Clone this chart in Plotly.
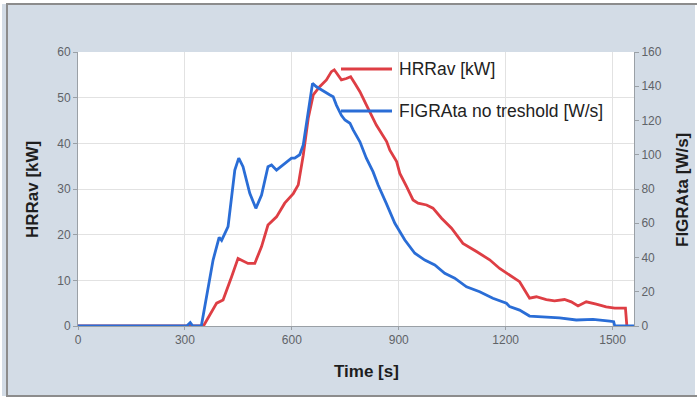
import plotly.graph_objects as go

# HRRav [kW] (left axis)
hrr_t = [0, 300, 352, 389, 407, 431, 449, 477, 496, 515, 533, 557, 580, 604, 618, 632, 646, 660, 678,
         697, 711, 719, 730, 739, 753, 765, 777, 791, 809, 837, 866, 875, 894, 903, 922, 940, 954, 978,
         996, 1020, 1048, 1080, 1118, 1155, 1183, 1211, 1239, 1267, 1286, 1314, 1337, 1365, 1384, 1403,
         1426, 1454, 1482, 1506, 1536, 1540]
hrr_v = [0, 0, 0, 5, 5.7, 10.8, 14.8, 13.7, 13.7, 17.4, 22.1, 23.9, 26.9, 29, 30.9, 37.4, 45.5, 50.6, 52.4,
         53.9, 55.7, 56.1, 55, 53.9, 54.2, 54.6, 53.1, 51.3, 48.4, 44, 40.4, 38.5, 36, 33.4, 30.5, 27.6, 26.9, 26.5,
         25.8, 23.6, 21.4, 18.1, 16.3, 14.5, 12.6, 11.2, 9.7, 6.1, 6.4, 5.8, 5.5, 5.8, 5.3, 4.4,
         5.3, 4.8, 4.2, 3.9, 3.9, 0]

# FIGRAta no treshold [W/s] (right axis)
fig_t = [0, 305, 315, 322, 340, 346, 379, 396, 403, 421, 440, 451, 463, 482, 499, 515, 533, 543, 557, 580,
         599, 608, 622, 632, 641, 651, 658, 669, 683, 697, 707, 716, 725, 739, 749, 763, 772, 791, 809,
         828, 842, 865, 889, 917, 945, 973, 1001, 1029, 1057, 1090, 1127, 1164, 1202, 1211, 1239, 1267,
         1305, 1351, 1398, 1445, 1492, 1503, 1506, 1560]
fig_v = [0, 0, 2, 0, 0, 0, 38.5, 51.8, 50, 58, 91, 98, 93, 77.5, 68.7, 76.5, 93, 94, 91, 95,
         98, 98, 100, 105.7, 119, 133, 141.7, 139.7, 137.8, 135.9, 134.9, 133.9, 129, 123, 120.3, 118.4, 114.5, 107.6, 98,
         90, 82.3, 71.6, 60, 50.2, 42.5, 38.5, 35.6, 30.8, 27.9, 22.9, 20, 16.2, 13.3, 11.3, 9.3, 5.8,
         5.4, 4.8, 3.5, 3.9, 2.9, 2.5, 0, 0]

x_ticks = [0, 300, 600, 900, 1200, 1500]
left_ticks = [0, 10, 20, 30, 40, 50, 60]
right_ticks = [0, 20, 40, 60, 80, 100, 120, 140, 160]

RED = "#de3e44"
BLUE = "#2a6dd6"
BG = "#d3dce6"
TICKC = "#5f6368"
AXC = "#9aa0a6"

fig = go.Figure()
fig.add_trace(go.Scatter(x=hrr_t, y=hrr_v, mode="lines", name="HRRav [kW]",
                         line=dict(color=RED, width=2.8), yaxis="y"))
fig.add_trace(go.Scatter(x=fig_t, y=fig_v, mode="lines", name="FIGRAta no treshold [W/s]",
                         line=dict(color=BLUE, width=2.8), yaxis="y2"))

L, R, T, B = 78, 63, 52, 74
W, H = 697, 400
pw, ph = W - L - R, H - T - B

def px(x):
    return (x - L) / pw

def py(y):
    return (H - B - y) / ph

fig.update_layout(
    width=W, height=H,
    margin=dict(l=L, r=R, t=T, b=B, autoexpand=False),
    paper_bgcolor=BG, plot_bgcolor="white",
    showlegend=False,
    font=dict(family="Liberation Sans, Arial, sans-serif", color="#222"),
    xaxis=dict(range=[0, 1560], tickvals=x_ticks, showgrid=True, gridcolor="#e2e2e2",
               zeroline=False, showline=True, linecolor=AXC, linewidth=1,
               ticks="outside", ticklen=3, tickcolor=AXC,
               tickfont=dict(size=12, color=TICKC)),
    yaxis=dict(range=[0, 60], tickvals=left_ticks, showgrid=True, gridcolor="#e2e2e2",
               zeroline=False, showline=True, linecolor=AXC, linewidth=1,
               ticks="outside", ticklen=4, tickcolor=AXC,
               tickfont=dict(size=12, color=TICKC)),
    yaxis2=dict(range=[0, 160], tickvals=right_ticks, overlaying="y", side="right",
                showgrid=False, zeroline=False, showline=True, linecolor=AXC, linewidth=1,
                ticks="outside", ticklen=4, tickcolor=AXC,
                tickfont=dict(size=12, color=TICKC)),
)

# axis titles
titles = [("<b>HRRav [kW]</b>", 33, 190, -90), ("<b>FIGRAta [W/s]</b>", 683, 190, -90),
          ("<b>Time [s]</b>", 366, 371, 0)]
for txt, xp, yp, ang in titles:
    fig.add_annotation(xref="paper", yref="paper", x=px(xp), y=py(yp), text=txt,
                       showarrow=False, textangle=ang, xanchor="center", yanchor="middle",
                       font=dict(size=17, color="#1e1e1e"))

# legend drawn manually inside the plot
legend_items = [("HRRav [kW]", RED, 69), ("FIGRAta no treshold [W/s]", BLUE, 111)]
for label, col, ypix in legend_items:
    fig.add_shape(type="line", xref="paper", yref="paper",
                  x0=px(341), x1=px(392), y0=py(ypix), y1=py(ypix),
                  line=dict(color=col, width=2.8))
    fig.add_annotation(xref="paper", yref="paper", x=px(397), y=py(ypix),
                       text=label, showarrow=False, xanchor="left", yanchor="middle",
                       font=dict(size=17.5, color="#222"))

# outer frame
fig.add_shape(type="rect", xref="paper", yref="paper",
              x0=px(-4), x1=px(701), y0=py(-2), y1=py(402),
              line=dict(color="white", width=12), fillcolor="rgba(0,0,0,0)", layer="above")
fig.add_shape(type="rect", xref="paper", yref="paper",
              x0=px(7), x1=px(704), y0=py(4), y1=py(396),
              line=dict(color="#8c8c8c", width=2), fillcolor="rgba(0,0,0,0)", layer="above")

fig.write_html("out.html")
